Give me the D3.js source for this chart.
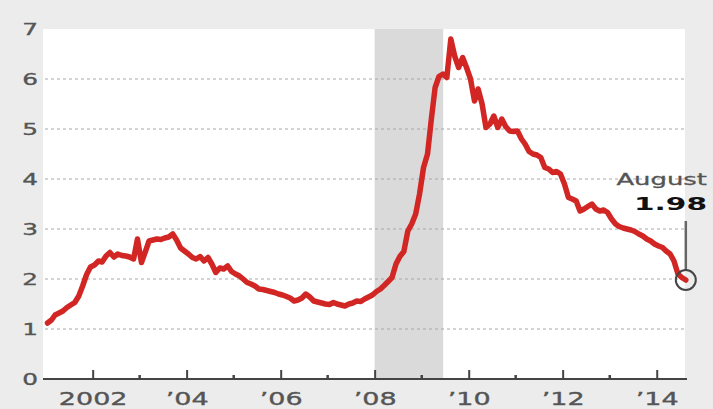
<!DOCTYPE html>
<html>
<head>
<meta charset="utf-8">
<script src="https://cdn.jsdelivr.net/npm/d3@7"></script>
<style>
  html, body { margin: 0; padding: 0; background: #ececec; }
  svg { display: block; }
  text { font-family: "DejaVu Sans", sans-serif; }
</style>
</head>
<body>
<svg id="chart" width="713" height="409"></svg>
<script>
// Monthly values, Jan 2001 – Aug 2014
const startYear = 2001;
const values2001 = [1.12, 1.18, 1.28, 1.32, 1.36, 1.43, 1.48, 1.53, 1.66, 1.86, 2.09, 2.24];
const values2002 = [2.28, 2.36, 2.34, 2.46, 2.53, 2.44, 2.50, 2.47, 2.46, 2.44, 2.40, 2.80];
const values2003 = [2.33, 2.55, 2.76, 2.78, 2.80, 2.79, 2.82, 2.84, 2.90, 2.78, 2.62, 2.56];
const values2004 = [2.50, 2.43, 2.40, 2.45, 2.36, 2.43, 2.30, 2.13, 2.22, 2.20, 2.26, 2.15];
const values2005 = [2.10, 2.06, 2.00, 1.93, 1.90, 1.86, 1.80, 1.79, 1.77, 1.75, 1.73, 1.70];
const values2006 = [1.68, 1.65, 1.62, 1.56, 1.58, 1.62, 1.70, 1.64, 1.56, 1.54, 1.52, 1.50];
const values2007 = [1.49, 1.53, 1.50, 1.48, 1.46, 1.50, 1.52, 1.56, 1.55, 1.60, 1.64, 1.68];
const values2008 = [1.75, 1.80, 1.87, 1.95, 2.03, 2.30, 2.45, 2.55, 2.96, 3.10, 3.30, 3.70];
const values2009 = [4.23, 4.50, 5.16, 5.83, 6.05, 6.10, 6.03, 6.80, 6.45, 6.23, 6.43, 6.23];
const values2010 = [6.00, 5.56, 5.80, 5.50, 5.03, 5.10, 5.26, 5.03, 5.20, 5.05, 4.96, 4.95];
const values2011 = [4.96, 4.80, 4.70, 4.55, 4.50, 4.48, 4.43, 4.23, 4.20, 4.13, 4.15, 4.10];
const values2012 = [3.90, 3.63, 3.60, 3.56, 3.36, 3.40, 3.45, 3.50, 3.40, 3.36, 3.38, 3.33];
const values2013 = [3.20, 3.10, 3.05, 3.02, 3.00, 2.98, 2.95, 2.90, 2.86, 2.80, 2.76, 2.70];
const values2014 = [2.66, 2.63, 2.56, 2.50, 2.36, 2.10, 2.03, 1.98];

const yTicks = [0, 1, 2, 3, 4, 5, 6, 7];
const xTickYears = [2002, 2004, 2006, 2008, 2010, 2012, 2014];
const xTickLabels = ["2002", "\u201904", "\u201906", "\u201908", "\u201910", "\u201912", "\u201914"];
const minorTickYears = [2003, 2005, 2007, 2009, 2011, 2013];
const recession = [new Date(2008, 0, 1), new Date(2009, 5, 1)];
const calloutMonth = "August";
const calloutValue = 1.98;

const allValues = [].concat(values2001, values2002, values2003, values2004, values2005,
  values2006, values2007, values2008, values2009, values2010, values2011, values2012,
  values2013, values2014);
const series = allValues.map((v, i) => ({ date: new Date(startYear, i, 15), value: v }));

const svg = d3.select("#chart");
const plot = { left: 43, right: 685, top: 29, bottom: 379 };
const stretch = 1.5;

const x = d3.scaleTime()
  .domain([new Date(2001, 0, 1), new Date(2015, 0, 1)])
  .range([45.7, 703.7]);
const y = d3.scaleLinear().domain([0, 7]).range([plot.bottom, plot.top]);

// white panel
svg.append("rect")
  .attr("x", plot.left).attr("y", plot.top)
  .attr("width", plot.right - plot.left).attr("height", plot.bottom - plot.top)
  .attr("fill", "#ffffff");

// recession band
svg.append("rect")
  .attr("x", x(recession[0])).attr("y", plot.top)
  .attr("width", x(recession[1]) - x(recession[0]) + 2)
  .attr("height", plot.bottom - plot.top)
  .attr("fill", "#dadada");

// dashed gridlines
svg.append("g").selectAll("line")
  .data(yTicks.filter(d => d > 0 && d < 7))
  .join("line")
  .attr("x1", plot.left + 2).attr("x2", plot.right)
  .attr("y1", d => y(d)).attr("y2", d => y(d))
  .attr("stroke", "#a8a8a8").attr("stroke-width", 1)
  .attr("stroke-dasharray", "3,3");

// y axis labels
const yAxis = svg.append("g")
  .attr("transform", `translate(${plot.left},0)`)
  .call(d3.axisLeft(y).tickValues(yTicks).tickSize(0).tickFormat(d3.format("d")));
yAxis.select(".domain").remove();
yAxis.selectAll("text")
  .attr("x", -5 / stretch)
  .attr("dy", "0.36em")
  .attr("transform", `scale(${stretch},1)`)
  .attr("fill", "#555")
  .attr("stroke", "#555").attr("stroke-width", 0.35)
  .style("font-size", "16.5px")
  .style("font-family", "DejaVu Sans, sans-serif");

// x axis with major ticks on even years
const xAxis = svg.append("g")
  .attr("transform", `translate(0,${plot.bottom})`)
  .call(d3.axisTop(x)
    .tickValues(xTickYears.map(yr => new Date(yr, 0, 1)))
    .tickSize(9)
    .tickFormat((d, i) => xTickLabels[i]));
xAxis.select(".domain")
  .attr("d", `M${plot.left},0H${plot.right + 2}`)
  .attr("stroke", "#444").attr("stroke-width", 2);
xAxis.selectAll(".tick line").attr("stroke", "#444").attr("stroke-width", 2);
xAxis.selectAll("text")
  .attr("y", 26).attr("dy", 0)
  .attr("transform", `scale(${stretch},1)`)
  .attr("fill", "#555")
  .attr("stroke", "#555").attr("stroke-width", 0.35)
  .style("font-size", "18px")
  .style("font-family", "DejaVu Sans, sans-serif");

// minor ticks on odd years
svg.append("g").selectAll("line")
  .data(minorTickYears)
  .join("line")
  .attr("x1", d => x(new Date(d, 0, 1))).attr("x2", d => x(new Date(d, 0, 1)))
  .attr("y1", plot.bottom).attr("y2", plot.bottom - 4)
  .attr("stroke", "#444").attr("stroke-width", 2.5);

// series line
const line = d3.line().x(d => x(d.date)).y(d => y(d.value));
svg.append("path")
  .datum(series)
  .attr("d", line)
  .attr("fill", "none")
  .attr("stroke", "#d12623")
  .attr("stroke-width", 5.5)
  .attr("stroke-linejoin", "round")
  .attr("stroke-linecap", "round");

// callout for latest value
const last = series[series.length - 1];
const cx = x(last.date), cy = y(calloutValue);
svg.append("line")
  .attr("x1", cx).attr("x2", cx)
  .attr("y1", 221).attr("y2", cy - 10)
  .attr("stroke", "#666").attr("stroke-width", 2.5);
svg.append("circle")
  .attr("cx", cx).attr("cy", cy).attr("r", 10)
  .attr("fill", "none").attr("stroke", "#444").attr("stroke-width", 2);

svg.append("text")
  .attr("transform", `translate(707,185) scale(${stretch + 0.07},1)`)
  .attr("text-anchor", "end")
  .attr("fill", "#555")
  .attr("stroke", "#555").attr("stroke-width", 0.3)
  .style("font-size", "16.5px")
  .text(calloutMonth);
svg.append("text")
  .attr("transform", `translate(707,210) scale(${stretch + 0.1},1)`)
  .attr("text-anchor", "end")
  .attr("fill", "#111")
  .style("font-size", "18.5px")
  .style("font-weight", "bold")
  .text(calloutValue.toFixed(2));
</script>
</body>
</html>
